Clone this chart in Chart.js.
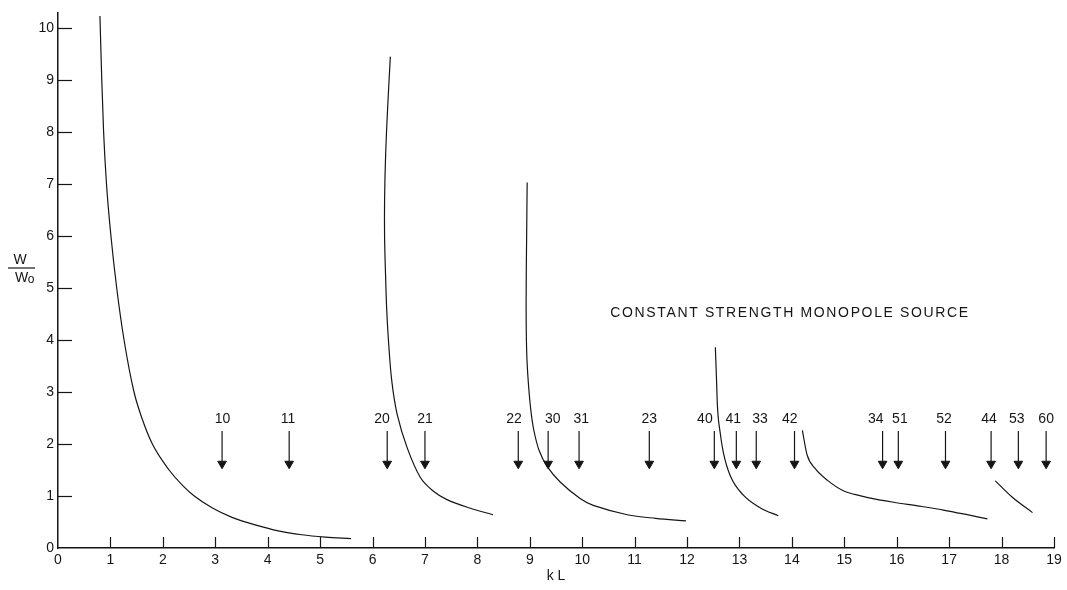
<!DOCTYPE html>
<html><head><meta charset="utf-8">
<script src="https://cdn.jsdelivr.net/npm/chart.js@4.4.1/dist/chart.umd.min.js"></script>
<style>html,body{margin:0;padding:0;background:#fff;}canvas{display:block}</style>
</head><body>
<canvas id="c" width="1067" height="590"></canvas>
<script>
// ---- data (kL, W/W0) ----
const xTickValues = [0,1,2,3,4,5,6,7,8,9,10,11,12,13,14,15,16,17,18,19];
const yTickValues = [0,1,2,3,4,5,6,7,8,9,10];
const curve1 = [[0.80,10.23],[0.835,9.0],[0.87,8.0],[0.925,7.0],[1.01,6.0],[1.12,5.0],[1.26,4.0],[1.45,3.0],[1.6,2.5],[1.8,2.0],[2.12,1.5],[2.38,1.2],[2.6,1.0],[2.93,0.78],[3.32,0.59],[3.78,0.44],[4.2,0.33],[4.65,0.255],[5.1,0.21],[5.59,0.18]];
const curve2 = [[6.34,9.45],[6.29,8.5],[6.25,7.56],[6.23,6.7],[6.23,5.98],[6.25,5.2],[6.27,4.6],[6.31,3.9],[6.37,3.19],[6.47,2.57],[6.66,1.93],[6.91,1.36],[7.15,1.10],[7.42,0.93],[7.85,0.77],[8.30,0.64]];
const curve3 = [[8.95,7.03],[8.94,6.0],[8.93,4.73],[8.94,3.8],[8.97,3.21],[9.02,2.65],[9.08,2.25],[9.18,1.87],[9.33,1.57],[9.58,1.27],[9.96,0.95],[10.21,0.82],[10.86,0.64],[11.4,0.57],[11.98,0.52]];
const curve4 = [[12.54,3.86],[12.56,3.3],[12.58,2.72],[12.63,2.23],[12.69,1.85],[12.82,1.40],[13.07,1.02],[13.40,0.77],[13.74,0.62]];
const curve5 = [[14.20,2.26],[14.29,1.79],[14.45,1.52],[14.68,1.30],[14.98,1.10],[15.2,1.03],[15.45,0.97],[15.94,0.88],[16.4,0.81],[16.89,0.73],[17.3,0.65],[17.73,0.56]];
const curve6 = [[17.88,1.29],[18.2,0.98],[18.59,0.68]];
const arrowKL = [3.13,4.41,6.28,7.0,8.78,9.35,9.94,11.28,12.52,12.94,13.32,14.05,15.73,16.03,16.93,17.8,18.32,18.85];
const arrowLabels = ['10','11','20','21','22','30','31','23','40','41','33','42','34','51','52','44','53','60'];
const labelKL = [3.14,4.39,6.18,7.0,8.70,9.44,9.98,11.28,12.34,12.88,13.39,13.96,15.60,16.06,16.90,17.76,18.29,18.85];
const annotationText = 'CONSTANT STRENGTH MONOPOLE SOURCE';
const xTitle = 'k L';

const ARROW_TOP = 2.25, ARROW_HEAD = 1.62, LABEL_W = 2.48;
const FONT = "'Liberation Sans','DejaVu Sans',sans-serif";
const INK = '#151515';

const toPts = a => a.map(([x,y]) => ({x, y}));
const shaftPts = [];
arrowKL.forEach(k => { shaftPts.push({x:k,y:ARROW_TOP},{x:k,y:ARROW_HEAD+0.05},{x:k,y:null}); });

const monotone = [true,false,false,true,true,true];
const curveDs = [curve1,curve2,curve3,curve4,curve5,curve6].map((c,i) => ({
  data: toPts(c), showLine: true, borderColor: INK, borderWidth: 1.2,
  pointRadius: 0, fill: false,
  tension: monotone[i] ? 0 : 0.35,
  cubicInterpolationMode: monotone[i] ? 'monotone' : 'default'
}));

const decor = {
  id: 'decor',
  afterDraw(chart) {
    const ctx = chart.ctx, xs = chart.scales.x, ys = chart.scales.y;
    ctx.save();
    ctx.strokeStyle = INK; ctx.lineWidth = 1.2;
    // inward tick marks
    xs.ticks.forEach(t => {
      if (t.value === 0) return;
      const px = Math.round(xs.getPixelForValue(t.value)) + 0.5;
      ctx.beginPath(); ctx.moveTo(px, xs.top); ctx.lineTo(px, xs.top - 11); ctx.stroke();
    });
    ys.ticks.forEach(t => {
      if (t.value === 0) return;
      const py = Math.round(ys.getPixelForValue(t.value)) + 0.5;
      ctx.beginPath(); ctx.moveTo(ys.right, py); ctx.lineTo(ys.right + 14, py); ctx.stroke();
    });
    // arrow labels
    ctx.fillStyle = INK;
    ctx.font = '14px ' + FONT;
    ctx.textAlign = 'center'; ctx.textBaseline = 'middle';
    labelKL.forEach((k, i) => {
      ctx.fillText(arrowLabels[i], xs.getPixelForValue(k), ys.getPixelForValue(LABEL_W));
    });
    // annotation
    const target = 358;
    const w0 = ctx.measureText(annotationText).width;
    try { ctx.letterSpacing = ((target - w0) / (annotationText.length - 1)).toFixed(2) + 'px'; } catch(e) {}
    ctx.textAlign = 'left';
    ctx.fillText(annotationText, xs.getPixelForValue(13.95) - target/2, ys.getPixelForValue(4.52));
    try { ctx.letterSpacing = '0px'; } catch(e) {}
    // y-axis title W / W0
    const p5 = ys.getPixelForValue(5);
    ctx.textAlign = 'center';
    ctx.font = '14px ' + FONT;
    ctx.fillText('W', 20, p5 - 28);
    ctx.beginPath(); ctx.moveTo(8, p5 - 20); ctx.lineTo(35, p5 - 20); ctx.stroke();
    ctx.fillText('W', 21.5, p5 - 10);
    ctx.font = '12px ' + FONT;
    ctx.fillText('o', 31, p5 - 8.5);
    ctx.restore();
  }
};

new Chart(document.getElementById('c'), {
  type: 'scatter',
  data: {
    datasets: [
      ...curveDs,
      { data: shaftPts, showLine: true, spanGaps: false, borderColor: INK, borderWidth: 1.2, pointRadius: 0, tension: 0 },
      { data: arrowKL.map(k => ({x:k, y:ARROW_HEAD})), showLine: false, pointStyle: 'triangle', rotation: 180,
        pointRadius: 5, backgroundColor: INK, borderColor: INK, borderWidth: 1 }
    ]
  },
  options: {
    responsive: false, animation: false, devicePixelRatio: 1,
    layout: { padding: { left: 0, right: 13, top: 3, bottom: 0 } },
    plugins: { legend: { display: false }, tooltip: { enabled: false }, title: { display: false } },
    scales: {
      x: {
        type: 'linear', min: 0, max: 19, position: 'bottom',
        afterBuildTicks: s => { s.ticks = xTickValues.map(v => ({value: v})); },
        afterFit: s => { s.height = 42; },
        ticks: { font: { family: FONT, size: 14 }, color: INK, padding: 4, autoSkip: false, maxRotation: 0 },
        grid: { display: false, drawTicks: false },
        border: { display: true, color: INK, width: 1.5 },
        title: { display: true, text: xTitle, color: INK, font: { family: FONT, size: 14 }, padding: { top: 0, bottom: 5 } }
      },
      y: {
        type: 'linear', min: 0, max: 10.3,
        afterBuildTicks: s => { s.ticks = yTickValues.map(v => ({value: v})); },
        afterFit: s => { s.width = 58; },
        ticks: { font: { family: FONT, size: 14 }, color: INK, padding: 4 },
        grid: { display: false, drawTicks: false },
        border: { display: true, color: INK, width: 1.5 }
      }
    }
  },
  plugins: [decor]
});
</script>
</body></html>
